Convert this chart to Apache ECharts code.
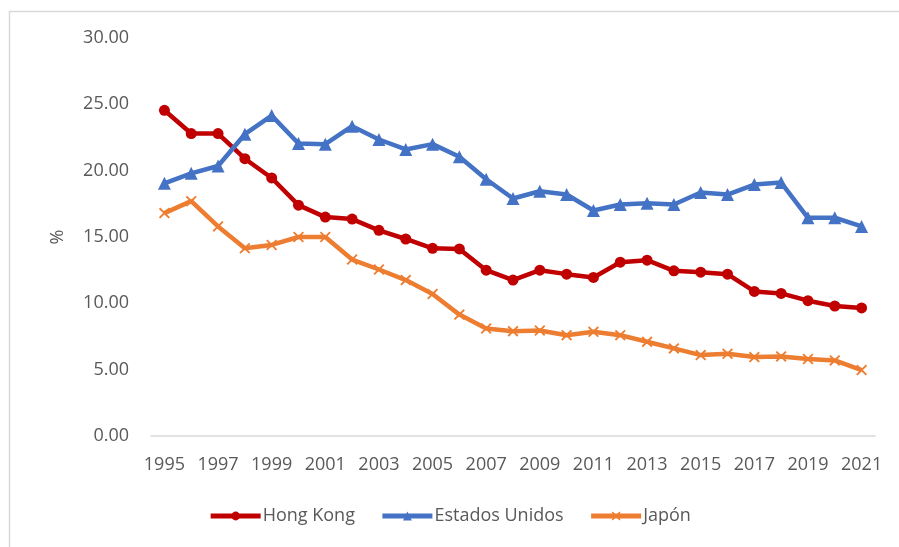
<!DOCTYPE html>
<html>
<head>
<meta charset="utf-8">
<script src="https://cdn.jsdelivr.net/npm/echarts@6/dist/echarts.min.js"></script>
<style>html,body{margin:0;padding:0;background:#fff;}#c{width:899px;height:547px;}</style>
</head>
<body>
<div id="c"></div>
<script>
const years = ['1995','1996','1997','1998','1999','2000','2001','2002','2003','2004','2005','2006','2007','2008','2009','2010','2011','2012','2013','2014','2015','2016','2017','2018','2019','2020','2021'];
const hongKong = [24.55,22.8,22.8,20.9,19.45,17.4,16.5,16.35,15.5,14.85,14.15,14.1,12.5,11.75,12.5,12.2,11.95,13.1,13.25,12.45,12.35,12.2,10.9,10.75,10.2,9.8,9.65];
const estadosUnidos = [19.05,19.8,20.35,22.75,24.15,22.05,22.0,23.35,22.35,21.6,22.0,21.05,19.35,17.9,18.45,18.2,17.0,17.45,17.55,17.45,18.35,18.2,18.95,19.1,16.45,16.45,15.8];
const japon = [16.8,17.7,15.8,14.15,14.4,15.0,15.0,13.3,12.55,11.75,10.7,9.15,8.1,7.9,7.95,7.6,7.85,7.6,7.1,6.6,6.1,6.2,5.95,6.0,5.8,5.7,4.97];
const yTicks = ['0.00','5.00','10.00','15.00','20.00','25.00','30.00'];

const crossPath = 'path://M0,1.2 L1.2,0 L5,3.8 L8.8,0 L10,1.2 L6.2,5 L10,8.8 L8.8,10 L5,6.2 L1.2,10 L0,8.8 L3.8,5 Z';
const font = '"Open Sans", sans-serif';

const chart = echarts.init(document.getElementById('c'), null, {renderer:'canvas'});
chart.setOption({
  animation: false,
  backgroundColor: '#fff',
  graphic: [{
    type: 'rect', silent: true,
    shape: {x: 9.5, y: 11.5, width: 1000, height: 700},
    style: {fill: 'none', stroke: '#D9D9D9', lineWidth: 1.5}
  }],
  grid: {left: 151, right: 24, top: 38, bottom: 111, containLabel: false},
  legend: {
    bottom: 17,
    left: 'center',
    itemWidth: 50,
    itemHeight: 11,
    itemGap: 25,
    lineStyle: {width: 5},
    textStyle: {fontFamily: font, fontSize: 18, color: '#595959', padding: [0,0,0,-3]},
    data: ['Hong Kong','Estados Unidos','Japón']
  },
  xAxis: {
    type: 'category',
    data: years,
    boundaryGap: true,
    axisLine: {lineStyle: {color: '#D9D9D9', width: 1.5}},
    axisTick: {show: false},
    axisLabel: {interval: 1, margin: 20, fontFamily: font, fontSize: 18, color: '#595959'}
  },
  yAxis: {
    type: 'value',
    min: 0, max: 30, interval: 5,
    name: '%',
    nameLocation: 'middle',
    nameGap: 84,
    nameRotate: 90,
    nameTextStyle: {fontFamily: font, fontSize: 18, color: '#595959'},
    splitLine: {show: false},
    axisLine: {show: false},
    axisTick: {show: false},
    axisLabel: {margin: 22, fontFamily: font, fontSize: 18, color: '#595959',
      formatter: function(v){ return yTicks[Math.round(v/5)]; }}
  },
  series: [
    {name: 'Hong Kong', type: 'line', data: hongKong, symbol: 'circle', symbolSize: 11,
      lineStyle: {color: '#C00000', width: 4.5}, itemStyle: {color: '#C00000'}},
    {name: 'Estados Unidos', type: 'line', data: estadosUnidos, symbol: 'triangle', symbolSize: 13,
      lineStyle: {color: '#4472C4', width: 4.5}, itemStyle: {color: '#4472C4'}},
    {name: 'Japón', type: 'line', data: japon, symbol: crossPath, symbolSize: 11,
      lineStyle: {color: '#ED7D31', width: 4.5}, itemStyle: {color: '#ED7D31'}}
  ]
});
</script>
</body>
</html>
